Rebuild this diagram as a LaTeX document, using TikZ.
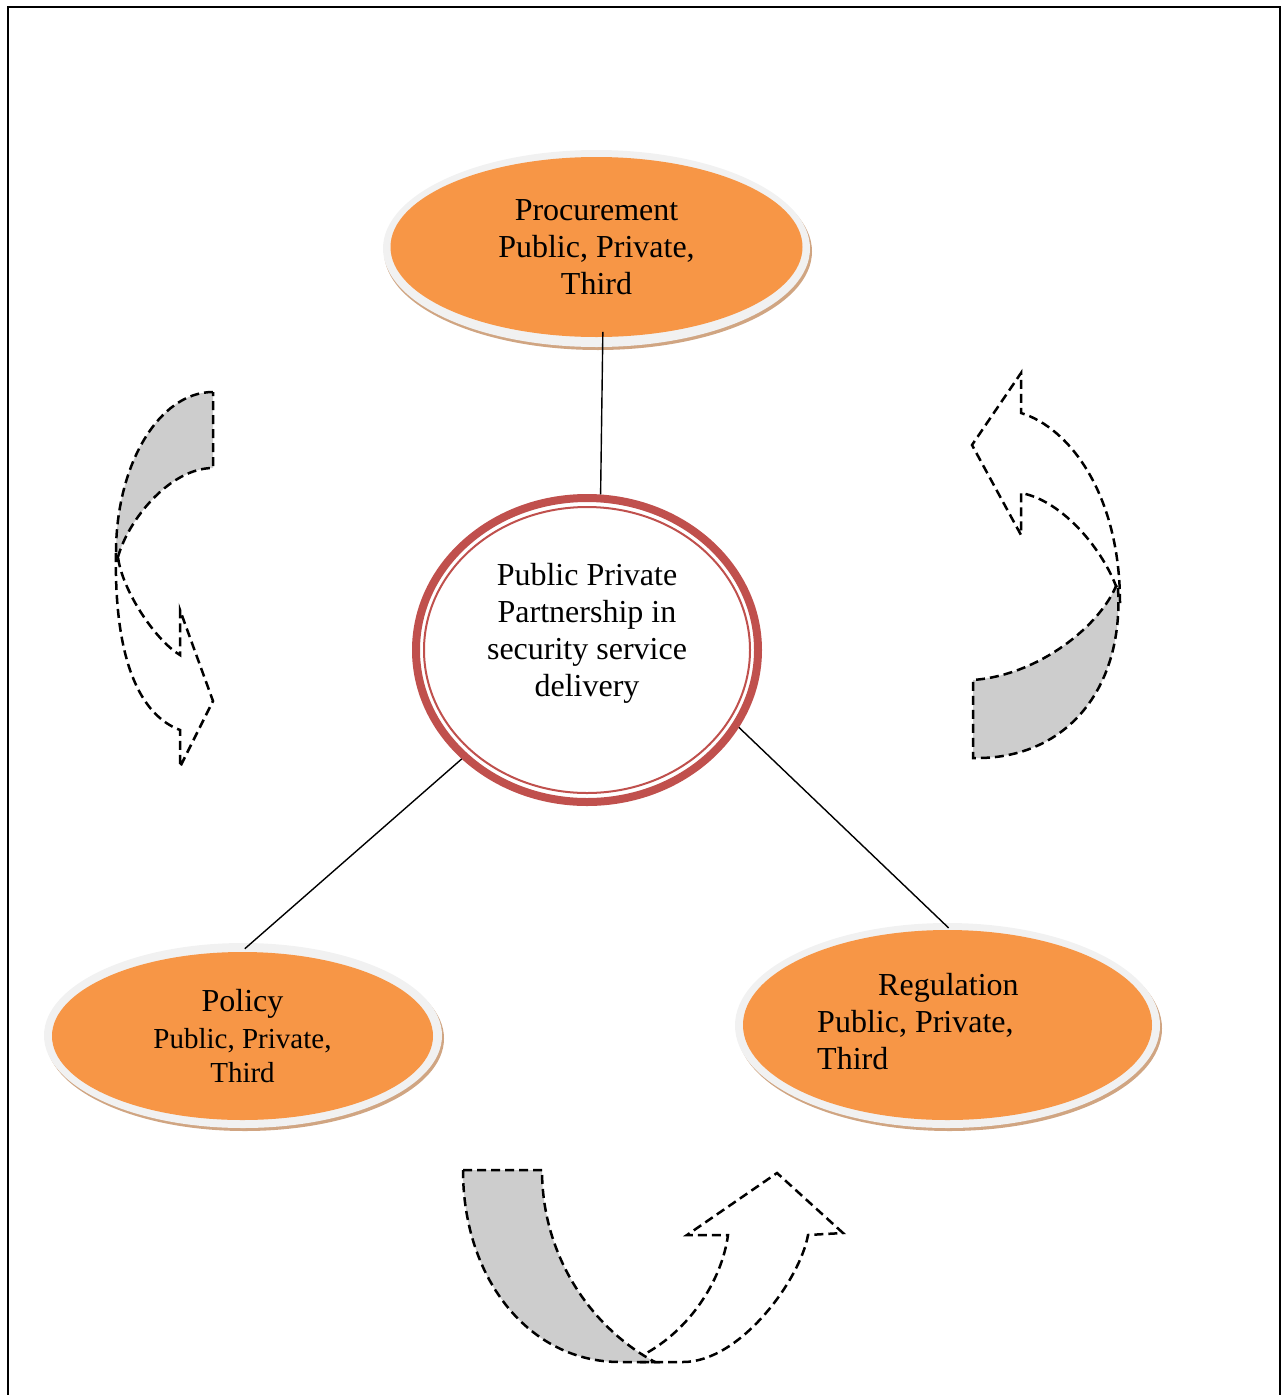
\documentclass[tikz,border=0pt]{standalone}
\usepackage{fontspec}
\setmainfont{Liberation Serif}
\usetikzlibrary{shapes.geometric,calc}
\definecolor{orangec}{RGB}{247,150,70}
\definecolor{rimc}{RGB}{241,241,241}
\definecolor{shadc}{RGB}{208,165,130}
\definecolor{ringc}{RGB}{192,80,77}
\definecolor{arrowgray}{RGB}{205,205,205}
\begin{document}
\begin{tikzpicture}[x=1pt,y=-1pt,
  orangeell/.style={ellipse, fill=orangec, inner sep=0pt, outer sep=0pt},
  rimell/.style={fill=rimc},
  shadell/.style={fill=shadc},
  dasharrow/.style={line width=2.5pt, dash pattern=on 9pt off 5pt, line join=miter},
  link/.style={line width=1.4pt},
  txt/.style={align=center, font=\fontsize{32}{37}\selectfont, inner sep=0pt},
]
\useasboundingbox (0,0) rectangle (1286,1395);
\draw[line width=2.3pt] (8,1400) -- (8,7) -- (1280,7) -- (1280,1400);

% Procurement
\fill[shadell] (598,251.5) ellipse [x radius=214, y radius=98.5];
\fill[rimell] (596.5,248.5) ellipse [x radius=213.5, y radius=98.5];
\node[orangeell, txt, minimum width=412pt, minimum height=180pt] (proc) at (596.5,247) {Procurement\\Public, Private,\\Third};

% Centre
\node[ellipse, draw=ringc, line width=8pt, fill=white, minimum width=342pt, minimum height=304pt, inner sep=0pt] (ctr) at (587,650) {};
\draw[ringc, line width=2pt] (ctr.center) ellipse [x radius=163, y radius=143];
\node[txt] (ctrtext) at (587,633) {Public Private\\Partnership in\\security service\\delivery};

% Policy
\fill[shadell] (245,1038.5) ellipse [x radius=199, y radius=92.5];
\fill[rimell] (243,1035.5) ellipse [x radius=199, y radius=92.5];
\node[orangeell, align=center, font=\fontsize{29}{34}\selectfont, minimum width=381pt, minimum height=168pt] (pol) at (242.5,1036) {{\fontsize{32}{38}\selectfont Policy}\\[3pt]Public, Private,\\Third};

% Regulation
\fill[shadell] (949.5,1028.5) ellipse [x radius=212.5, y radius=102.5];
\fill[rimell] (947.5,1025.5) ellipse [x radius=212.5, y radius=102.5];
\node[orangeell, minimum width=409pt, minimum height=190pt] (reg) at (947.5,1025) {};
\node[txt, align=left, anchor=west] (regtext) at (817,1022) {\hspace*{61pt}Regulation\\Public, Private,\\Third};

% connectors
\draw[link, shorten <=-5pt] (proc.274) -- (ctr.85);
\draw[link, shorten <=5pt] (pol.91) -- (ctr.221.6);
\draw[link, shorten <=3pt] (reg.88) -- (ctr.333);

% left curved arrow
\filldraw[dasharrow, fill=arrowgray] (213,392) .. controls (159.4,392) and (116,464) .. (116,553) -- (118,557) .. controls (128,520) and (170,468) .. (213,468) -- cycle;
\draw[dasharrow] (116,553) .. controls (114,660) and (140,715) .. (180,730) -- (180,767) -- (213,701) -- (180,610) -- (180,655) .. controls (155,640) and (122,590) .. (118,557);

% right curved arrow
\filldraw[dasharrow, fill=arrowgray] (1118,588) .. controls (1124,690) and (1065,760) .. (973,758) -- (973,680) .. controls (1040,675) and (1100,625) .. (1116,586) -- cycle;
\draw[dasharrow] (1120,603) .. controls (1120,495) and (1070,428) .. (1021,413) -- (1021,373) -- (972,445) -- (1021,535) -- (1021,493) .. controls (1060,500) and (1100,545) .. (1116,586);

% bottom curved arrow
\filldraw[dasharrow, fill=arrowgray] (463,1170) -- (542,1170) .. controls (542,1260) and (595,1330) .. (655,1362) -- (620,1362) .. controls (530,1362) and (463,1280) .. (463,1170) -- cycle;
\draw[dasharrow] (640,1362) -- (683,1362) .. controls (740,1362) and (800,1280) .. (808,1235) -- (843,1233) -- (777,1173) -- (687,1235) -- (728,1235) .. controls (722,1280) and (690,1330) .. (643,1355);
\end{tikzpicture}
\end{document}
